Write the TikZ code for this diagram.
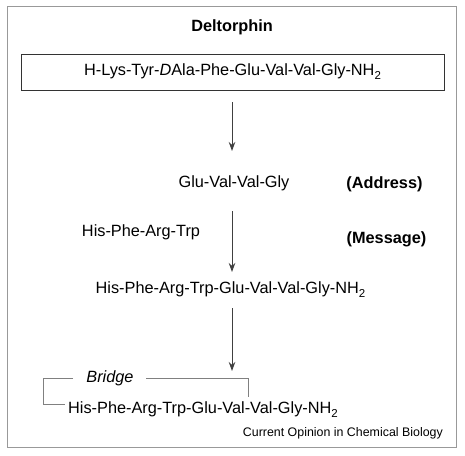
\documentclass[tikz,border=0pt]{standalone}
\usepackage{fontspec}
\setmainfont{Liberation Sans}
\usetikzlibrary{arrows.meta}
\newcommand\mysubtwo{\raisebox{-4pt}{\fontsize{11.5}{12}\selectfont 2}}
\begin{document}
\begin{tikzpicture}[x=1pt,y=-1pt,
  txt/.style={font=\fontsize{16.3}{19}\selectfont, inner sep=0pt},
  btxt/.style={font=\fontsize{16.3}{19}\selectfont\bfseries, inner sep=0pt},
  arr/.style={draw=black!75, line width=0.9pt, -{Stealth[length=9pt,width=6.5pt]}},
  frame/.style={draw=black!40, line width=1pt},
  brline/.style={draw=black!50, line width=1pt}]
\useasboundingbox (0,0) rectangle (465,455);
\draw[frame] (7,6) rectangle (456,447);
\node[btxt] (title) at (232,27) {Deltorphin};
\node[txt, draw=black!80, line width=0.9pt, minimum width=423pt, minimum height=36pt] (box) at (232.5,72)
  {H-Lys-Tyr-\textit{D}Ala-Phe-Glu-Val-Val-Gly-NH\mysubtwo};
\node[txt] (addrpep) at (234,183) {Glu-Val-Val-Gly};
\node[btxt] (addr) at (384.5,184) {(Address)};
\node[txt] (msgpep) at (141,232) {His-Phe-Arg-Trp};
\node[btxt] (msg) at (386.5,239) {(Message)};
\node[txt] (full) at (230.5,290) {His-Phe-Arg-Trp-Glu-Val-Val-Gly-NH\mysubtwo};
\node[txt, font=\fontsize{16.3}{19}\selectfont\itshape] (bridge) at (110,378) {Bridge};
\node[txt, anchor=west] (cyc) at (68,410) {His-Phe-Arg-Trp-Glu-Val-Val-Gly-NH\mysubtwo};
\node[inner sep=0pt, anchor=east, font=\fontsize{12.4}{14}\selectfont] (credit) at (443,433) {Current Opinion in Chemical Biology};
% arrows
\coordinate (a1s) at (232,102); \coordinate (a1e) at (232,151);
\coordinate (a2s) at (232,211); \coordinate (a2e) at (232,272);
\coordinate (a3s) at (232,308); \coordinate (a3e) at (232,371);
\draw[arr] (a1s) -- (a1e);
\draw[arr] (a2s) -- (a2e);
\draw[arr] (a3s) -- (a3e);
% bridge
\coordinate (bl) at (73,378); \coordinate (br) at (146,378);
\coordinate (cl) at (65,404); \coordinate (cr) at (248,397);
\draw[brline] (bl) -- (43,378) |- (cl);
\draw[brline] (br) -| (cr);
\end{tikzpicture}
\end{document}
